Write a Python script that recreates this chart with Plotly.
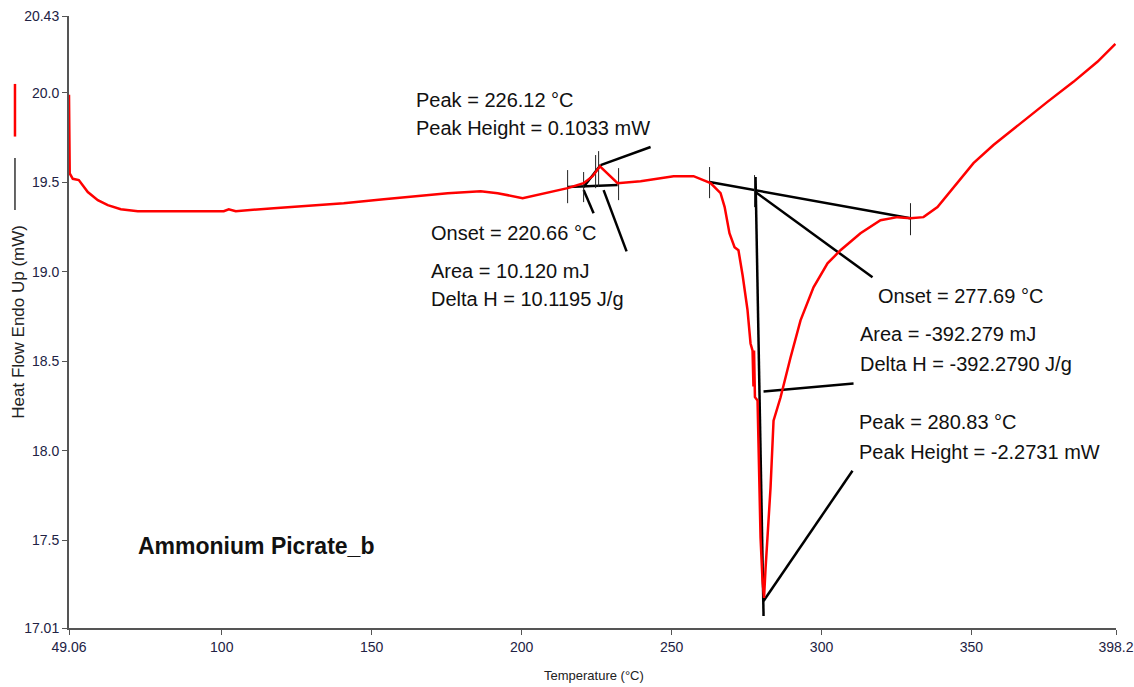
import plotly.graph_objects as go

# ---- DSC curve (Temperature °C, Heat Flow mW) ----
temp = [49.06, 49.12, 49.3, 50.33, 52.33, 55.33, 58.67, 62.0, 66.33, 72.0, 86.33, 100.67, 102.33,
        104.67, 117.33, 127.33, 140.67, 154.0, 165.33, 175.33, 186.33, 192.0, 200.33, 206.33,
        215.33, 220.67, 223.67, 226.12, 229.33, 232.0, 239.67, 250.67, 257.33, 263.0, 266.33,
        267.7, 269.3, 271.0, 272.3, 273.7, 275.3, 276.33, 277.0, 277.3, 277.5, 277.8, 278.67,
        279.67, 280.33, 280.83, 281.33, 282.0, 283.0, 284.0, 286.33, 289.67, 293.0, 297.33,
        302.0, 306.33, 313.0, 319.67, 325.33, 329.67, 334.0, 338.67, 344.0, 350.67, 357.33,
        366.33, 375.33, 384.0, 392.0, 398.0]
heat_flow = [19.99, 19.62, 19.55, 19.52, 19.513, 19.446, 19.401, 19.373, 19.350, 19.339, 19.339,
             19.339, 19.350, 19.339, 19.356, 19.367, 19.384, 19.406, 19.423, 19.440, 19.451,
             19.440, 19.412, 19.434, 19.468, 19.496, 19.535, 19.590, 19.541, 19.496, 19.507,
             19.535, 19.535, 19.496, 19.440, 19.362, 19.216, 19.138, 19.121, 18.980, 18.790,
             18.600, 18.560, 18.360, 18.560, 18.300, 18.281, 17.514, 17.273, 17.178, 17.340,
             17.514, 17.794, 18.169, 18.298, 18.522, 18.729, 18.914, 19.048, 19.121, 19.216,
             19.289, 19.306, 19.300, 19.306, 19.362, 19.474, 19.608, 19.709, 19.832, 19.950,
             20.062, 20.174, 20.274]

# ---- analysis construction lines (pairs of end points) ----
seg_x = [
    [215.33, 232.0],     # small peak baseline
    [220.67, 226.33],    # small peak tangent
    [226.33, 243.0],     # small peak marker
    [220.67, 224.0],     # onset leader
    [227.33, 235.0],     # area leader
    [262.67, 329.67],    # big peak baseline
    [278.0, 280.67],     # big peak vertical
    [278.0, 317.0],      # onset leader
    [280.67, 310.67],    # area leader
    [280.67, 310.33],    # peak leader
]
seg_y = [
    [19.474, 19.485],
    [19.474, 19.597],
    [19.597, 19.698],
    [19.457, 19.328],
    [19.457, 19.115],
    [19.502, 19.300],
    [19.530, 17.077],
    [19.446, 18.970],
    [18.331, 18.376],
    [17.161, 17.889],
]
# limit ticks (x, y_low, y_high)
tick_x = [215.33, 220.67, 224.67, 225.67, 232.33, 262.67, 277.67, 329.67]
tick_lo = [19.384, 19.390, 19.468, 19.474, 19.401, 19.412, 19.362, 19.205]
tick_hi = [19.569, 19.558, 19.653, 19.675, 19.580, 19.586, 19.541, 19.384]

# ---- labels ----
label_text = ["Peak = 226.12 °C", "Peak Height = 0.1033 mW", "Onset = 220.66 °C",
              "Area = 10.120 mJ", "Delta H = 10.1195 J/g", "Onset = 277.69 °C",
              "Area = -392.279 mJ", "Delta H = -392.2790 J/g", "Peak = 280.83 °C",
              "Peak Height = -2.2731 mW"]
label_x = [164.0, 164.0, 169.0, 169.0, 169.0, 318.33, 312.33, 312.33, 311.67, 311.67]
label_y = [19.961, 19.804, 19.216, 19.003, 18.847, 18.863, 18.651, 18.483, 18.163, 17.996]

x_ticks = [49.06, 100, 150, 200, 250, 300, 350, 398.2]
x_tick_text = ["49.06", "100", "150", "200", "250", "300", "350", "398.2"]
y_ticks = [17.01, 17.5, 18.0, 18.5, 19.0, 19.5, 20.0, 20.43]
y_tick_text = ["17.01", "17.5", "18.0", "18.5", "19.0", "19.5", "20.0", "20.43"]

FONT = "Liberation Sans, Arial, sans-serif"

fig = go.Figure()

for xs, ys in zip(seg_x, seg_y):
    fig.add_trace(go.Scatter(x=xs, y=ys, mode="lines", line=dict(color="black", width=2.5),
                             hoverinfo="skip", showlegend=False))
for tx, lo, hi in zip(tick_x, tick_lo, tick_hi):
    fig.add_trace(go.Scatter(x=[tx, tx], y=[lo, hi], mode="lines",
                             line=dict(color="#222", width=1), hoverinfo="skip", showlegend=False))

fig.add_trace(go.Scatter(x=temp, y=heat_flow, mode="lines",
                         line=dict(color="#ff0000", width=2.5), showlegend=False))

for t, x, y in zip(label_text, label_x, label_y):
    fig.add_annotation(x=x, y=y, text=t, showarrow=False, xanchor="left", yanchor="middle",
                       font=dict(family=FONT, size=20, color="#111"))

fig.add_annotation(x=71.33, y=17.469, text="<b>Ammonium Picrate_b</b>", showarrow=False,
                   xanchor="left", yanchor="middle",
                   font=dict(family=FONT, size=23, color="#111"))

# axis titles
fig.add_annotation(xref="paper", yref="paper", x=0.501, y=-0.078, text="Temperature (°C)",
                   showarrow=False, xanchor="center", yanchor="middle",
                   font=dict(family=FONT, size=13, color="#222"))
fig.add_annotation(xref="paper", yref="paper", x=-0.049, y=0.50, text="Heat Flow Endo Up (mW)",
                   textangle=-90, showarrow=False, xanchor="center", yanchor="middle",
                   font=dict(family=FONT, size=17, color="#222"))

# legend-like key marks at left
fig.add_shape(type="line", xref="paper", yref="paper", x0=-0.0516, x1=-0.0516,
              y0=0.889, y1=0.803, line=dict(color="#ff0000", width=2.5))
fig.add_shape(type="line", xref="paper", yref="paper", x0=-0.0516, x1=-0.0516,
              y0=0.768, y1=0.683, line=dict(color="#333", width=1.5))

fig.update_layout(
    width=1134, height=687,
    margin=dict(l=69, r=18, t=16, b=59, autoexpand=False),
    paper_bgcolor="white", plot_bgcolor="white",
    xaxis=dict(range=[49.06, 398.2], tickvals=x_ticks, ticktext=x_tick_text,
               showgrid=False, zeroline=False, showline=True, linecolor="#555", linewidth=2,
               ticks="outside", ticklen=5, tickcolor="#555", ticklabeloverflow="allow",
               automargin=False,
               tickfont=dict(family=FONT, size=14, color="#222244")),
    yaxis=dict(range=[17.01, 20.43], tickvals=y_ticks, ticktext=y_tick_text,
               showgrid=False, zeroline=False, showline=True, linecolor="#555", linewidth=2,
               ticks="outside", ticklen=5, tickcolor="#555", automargin=False,
               tickfont=dict(family=FONT, size=14, color="#222244")),
)

fig.write_html("out.html")
